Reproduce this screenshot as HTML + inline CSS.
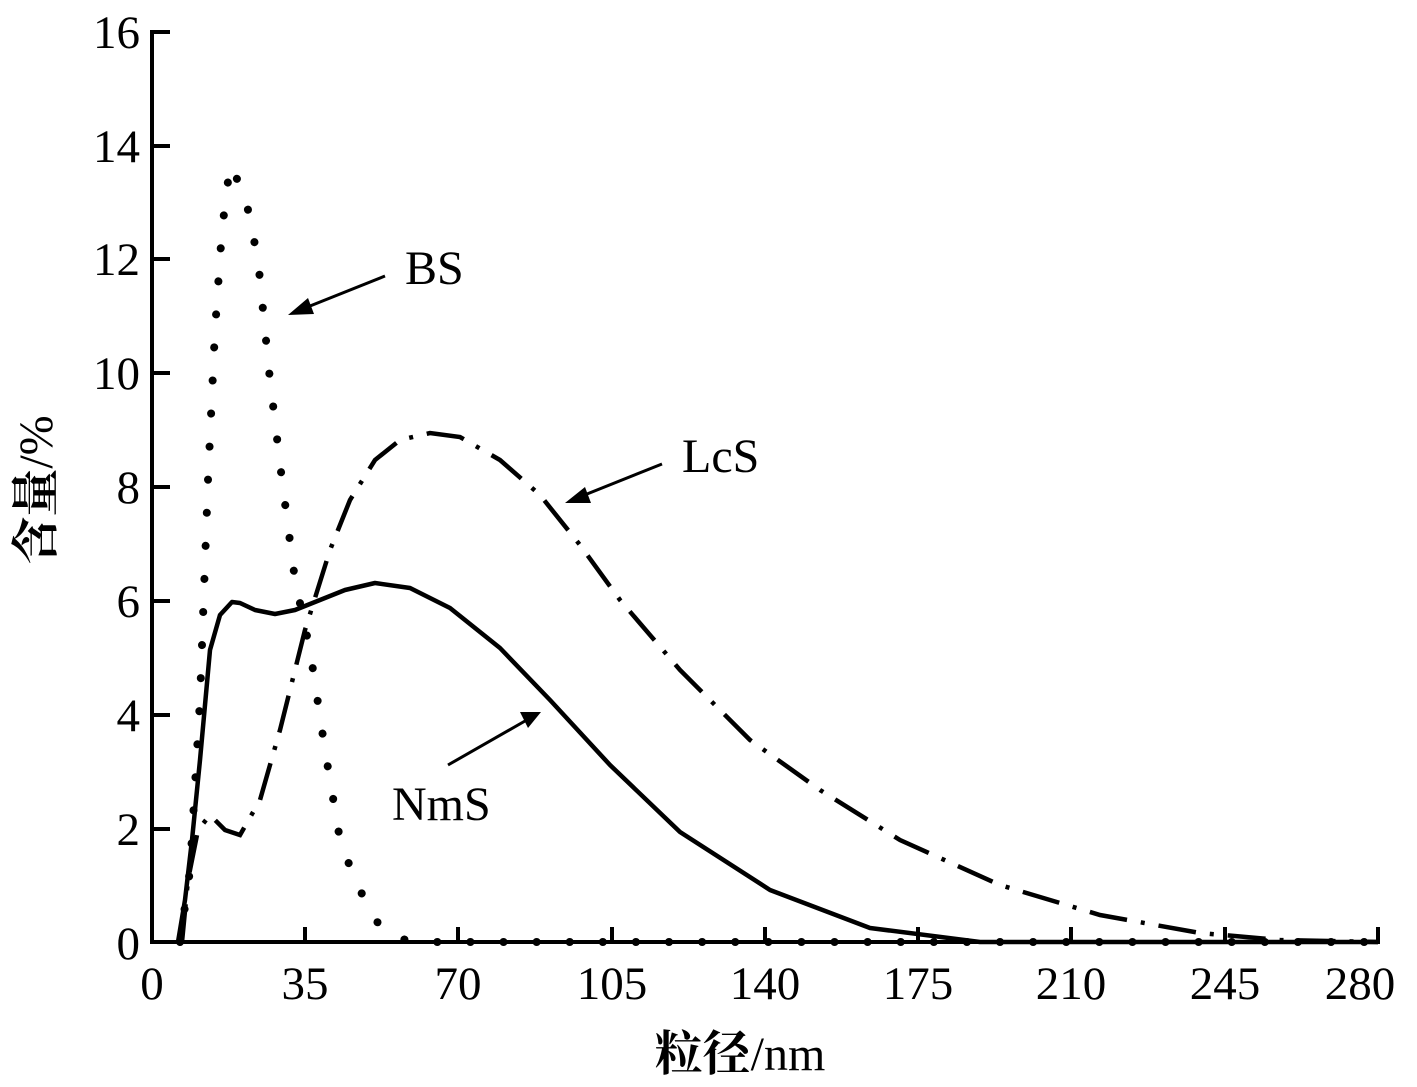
<!DOCTYPE html>
<html><head><meta charset="utf-8"><style>
html,body{margin:0;padding:0;background:#fff}
svg{display:block}
text{font-family:"Liberation Serif","Noto Serif CJK SC",serif;fill:#000}
</style></head><body>
<svg width="1417" height="1087" viewBox="0 0 1417 1087" xmlns="http://www.w3.org/2000/svg">
<g stroke="#000" stroke-width="4" fill="none" stroke-linecap="butt">
<path d="M152,30 L152,942 L1380,942"/>
<path d="M152,32H170M152,146H170M152,259H170M152,373H170M152,487H170M152,601H170M152,715H170M152,829H170"/>
<path d="M305,942V927M458,942V927M612,942V927M765,942V927M918,942V927M1071,942V927M1225,942V927M1378,942V927"/>
</g>
<path d="M178,942 L185,900 L192,840 L200,760 L210,650 L220,615 L232,602 L240,603 L255,610 L275,614 L295,610 L320,600 L345,590 L375,583 L410,588 L450,608 L500,648 L550,700 L610,765 L680,832 L770,890 L870,928 L980,942 L1378,942" stroke="#000" stroke-width="4.5" fill="none" stroke-linejoin="round"/>
<path d="M180,942 L190,870 L200,700 L208,480 L215,330 L222,230 L230,165 L245,195 L258,260 L270,380 L282,480 L295,580 L310,650 L325,750 L340,840 L355,880 L375,920 L395,938 L420,942 L1378,942" stroke="#000" stroke-width="8" fill="none" stroke-linecap="round" stroke-dasharray="0.1 33"/>
<path d="M182,942 L188,880 L198,830 L210,815 L225,830 L240,835 L260,800 L280,730 L305,630 L330,550 L350,500 L375,460 L400,440 L430,433 L460,437 L500,460 L540,495 L580,545 L620,600 L680,670 L750,740 L820,790 L900,840 L1000,885 L1100,915 L1200,933 L1280,940 L1378,942" stroke="#000" stroke-width="4.5" fill="none" stroke-dasharray="38 14 4 14"/>
<g stroke="#000" stroke-width="3" fill="#000">
<line x1="385" y1="276" x2="305" y2="308"/><polygon points="288,315 308,298 314,314" stroke="none"/>
<line x1="662" y1="464" x2="582" y2="496"/><polygon points="565,503 585,487 591,503" stroke="none"/>
<line x1="448" y1="765" x2="525" y2="721"/><polygon points="541,712 520,712 528,728" stroke="none"/>
</g>
<g font-size="48">
<text x="405" y="284">BS</text>
<text x="682" y="472">LcS</text>
<text x="392" y="820">NmS</text>
</g>
<g font-size="47" text-anchor="end">
<text x="140" y="48">16</text><text x="140" y="162">14</text><text x="140" y="275">12</text><text x="140" y="389">10</text>
<text x="140" y="503">8</text><text x="140" y="617">6</text><text x="140" y="731">4</text><text x="140" y="845">2</text><text x="140" y="959">0</text>
</g>
<g font-size="47" text-anchor="middle">
<text x="152" y="999">0</text><text x="305" y="999">35</text><text x="458" y="999">70</text><text x="612" y="999">105</text>
<text x="765" y="999">140</text><text x="918" y="999">175</text><text x="1071" y="999">210</text><text x="1225" y="999">245</text><text x="1360" y="999">280</text>
</g>
<text x="740" y="1070" font-size="48" text-anchor="middle"><tspan font-weight="bold">粒径</tspan>/nm</text>
<text transform="translate(52,490) rotate(-90)" font-size="48" text-anchor="middle"><tspan font-weight="bold">含量</tspan>/%</text>
</svg>
</body></html>
